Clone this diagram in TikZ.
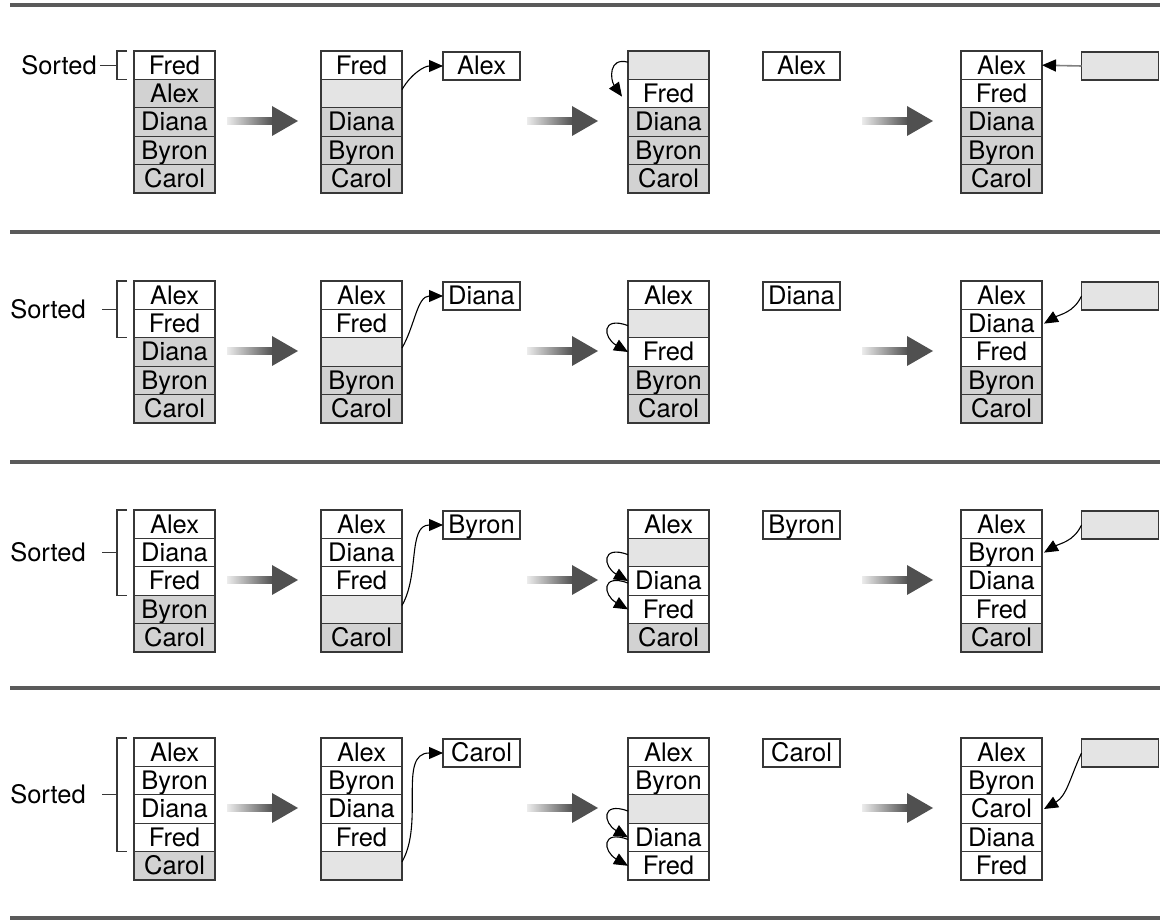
\documentclass[tikz,border=0pt]{standalone}
\usepackage{fontspec}
\setmainfont{TeX Gyre Heros}
\usetikzlibrary{arrows.meta,positioning,calc}
\definecolor{cellgray}{RGB}{210,210,210}
\definecolor{emptygray}{RGB}{228,228,228}
\definecolor{linegray}{RGB}{55,55,55}
\definecolor{rulegray}{RGB}{90,90,90}
\definecolor{passgray}{RGB}{80,80,80}
\newcommand{\cellfont}{\fontsize{25.5}{26}\selectfont}
\tikzstyle{cell} = [rectangle, draw=linegray, line width=1.3pt, minimum width=81pt,
    minimum height=28.4pt, inner sep=0pt, outer sep=0pt, font=\cellfont,
    text height=18pt, text depth=0pt]
\tikzstyle{sidebox} = [cell, minimum width=77pt, minimum height=28pt]
\tikzstyle{sortlabel} = [inner sep=0pt, font=\cellfont, text height=18pt, text depth=0pt]
\tikzstyle{sortbrace} = [line width=1.3pt, draw=linegray]
\tikzstyle{sectionrule} = [line width=4pt, draw=rulegray]
\tikzstyle{movearrow} = [line width=1.1pt, -{Triangle[length=14pt,width=12pt]}]
\tikzstyle{shiftloop} = [movearrow, out=160, in=150, looseness=2.8]
% a column of five cells: name, x centre, y top, list of text/fill
\newcommand{\cellstack}[4]{%
  \foreach \txt/\col [count=\i] in {#4}
    \node[cell, fill=\col] (#1-\i) at ({#2}, {#3-28.4*\i+14.2}) {\txt};
}
% the big grey arrow between two steps: x start, y centre
\newcommand{\passarrow}[2]{%
  \shade[left color=gray!15, right color=passgray] ({#1},{#2-3.5}) rectangle ({#1+46},{#2+3.5});
  \fill[passgray] ({#1+45},{#2-15}) -- ({#1+71},{#2}) -- ({#1+45},{#2+15}) -- cycle;
}

\begin{document}
\begin{tikzpicture}[x=1pt, y=1pt]
\useasboundingbox (0,0) rectangle (1163,922);
\foreach \ry in {917,690,460,234,4}
  \draw[sectionrule] (10,\ry) -- (1160,\ry);

% pass 1: Alex
\cellstack{r1a}{174.5}{871}{Fred/white, Alex/cellgray, Diana/cellgray, Byron/cellgray, Carol/cellgray}
\cellstack{r1b}{361.5}{871}{Fred/white, {}/emptygray, Diana/cellgray, Byron/cellgray, Carol/cellgray}
\node[sidebox, fill=white] (r1b-out) at (481.5, 856) {Alex};
\cellstack{r1c}{668.5}{871}{{}/emptygray, Fred/white, Diana/cellgray, Byron/cellgray, Carol/cellgray}
\node[sidebox, fill=white] (r1c-out) at (801.5, 856) {Alex};
\cellstack{r1d}{1001.5}{871}{Alex/white, Fred/white, Diana/cellgray, Byron/cellgray, Carol/cellgray}
\node[sidebox, fill=emptygray] (r1d-out) at (1120, 856) {};
\coordinate (r1brk) at ($(r1a-1.north west)!0.5!(r1a-1.south west)+(-17,0)$);
\draw[sortbrace] ($(r1a-1.north west)+(-7,0)$) -| ($(r1a-1.south west)+(-17,0)$) -- ++(10,0);
\node[sortlabel, left=20pt of r1brk] (r1lab) {Sorted};
\draw[sortbrace, shorten <=3pt] (r1lab.east) -- (r1brk);
\passarrow{227}{801}
\passarrow{527}{801}
\passarrow{862}{801}
\draw[movearrow] ($(r1b-2.east)+(0,4)$) to[out=60, in=180] (r1b-out.west);
\draw[movearrow] ($(r1c-1.west)+(0,3)$) to[out=165, in=125, looseness=1.5] ($(r1c-2.west)+(-6,-3)$);
\draw[line width=1.6pt, draw=gray, -{Triangle[length=14pt,width=12pt,black]}] (r1d-out.west) -- (r1d-1.east);

% pass 2: Diana
\cellstack{r2a}{174.5}{641}{Alex/white, Fred/white, Diana/cellgray, Byron/cellgray, Carol/cellgray}
\cellstack{r2b}{361.5}{641}{Alex/white, Fred/white, {}/emptygray, Byron/cellgray, Carol/cellgray}
\node[sidebox, fill=white] (r2b-out) at (481.5, 626) {Diana};
\cellstack{r2c}{668.5}{641}{Alex/white, {}/emptygray, Fred/white, Byron/cellgray, Carol/cellgray}
\node[sidebox, fill=white] (r2c-out) at (801.5, 626) {Diana};
\cellstack{r2d}{1001.5}{641}{Alex/white, Diana/white, Fred/white, Byron/cellgray, Carol/cellgray}
\node[sidebox, fill=emptygray] (r2d-out) at (1120, 626) {};
\coordinate (r2brk) at ($(r2a-1.north west)!0.5!(r2a-2.south west)+(-17,0)$);
\draw[sortbrace] ($(r2a-1.north west)+(-7,0)$) -| ($(r2a-2.south west)+(-17,0)$) -- ++(10,0);
\node[sortlabel, left=31pt of r2brk] (r2lab) {Sorted};
\draw[sortbrace, shorten <=16pt] (r2lab.east) -- (r2brk);
\passarrow{227}{571}
\passarrow{527}{571}
\passarrow{862}{571}
\draw[movearrow] ($(r2b-3.east)+(0,4)$) to[out=60, in=180] (r2b-out.west);
\draw[shiftloop] ($(r2c-2.west)+(0,-2)$) to (r2c-3.west);
\draw[movearrow] (r2d-out.west) to[out=245, in=30] ($(r2d-2.east)+(2,0)$);

% pass 3: Byron
\cellstack{r3a}{174.5}{412}{Alex/white, Diana/white, Fred/white, Byron/cellgray, Carol/cellgray}
\cellstack{r3b}{361.5}{412}{Alex/white, Diana/white, Fred/white, {}/emptygray, Carol/cellgray}
\node[sidebox, fill=white] (r3b-out) at (481.5, 397) {Byron};
\cellstack{r3c}{668.5}{412}{Alex/white, {}/emptygray, Diana/white, Fred/white, Carol/cellgray}
\node[sidebox, fill=white] (r3c-out) at (801.5, 397) {Byron};
\cellstack{r3d}{1001.5}{412}{Alex/white, Byron/white, Diana/white, Fred/white, Carol/cellgray}
\node[sidebox, fill=emptygray] (r3d-out) at (1120, 397) {};
\coordinate (r3brk) at ($(r3a-1.north west)!0.5!(r3a-3.south west)+(-17,0)$);
\draw[sortbrace] ($(r3a-1.north west)+(-7,0)$) -| ($(r3a-3.south west)+(-17,0)$) -- ++(10,0);
\node[sortlabel, left=31pt of r3brk] (r3lab) {Sorted};
\draw[sortbrace, shorten <=16pt] (r3lab.east) -- (r3brk);
\passarrow{227}{342}
\passarrow{527}{342}
\passarrow{862}{342}
\draw[movearrow] ($(r3b-4.east)+(0,4)$) to[out=60, in=180] (r3b-out.west);
\draw[shiftloop] ($(r3c-2.west)+(0,-2)$) to (r3c-3.west);
\draw[shiftloop] ($(r3c-3.west)+(0,-2)$) to (r3c-4.west);
\draw[movearrow] (r3d-out.west) to[out=245, in=30] ($(r3d-2.east)+(2,0)$);

% pass 4: Carol
\cellstack{r4a}{174.5}{184}{Alex/white, Byron/white, Diana/white, Fred/white, Carol/cellgray}
\cellstack{r4b}{361.5}{184}{Alex/white, Byron/white, Diana/white, Fred/white, {}/emptygray}
\node[sidebox, fill=white] (r4b-out) at (481.5, 169) {Carol};
\cellstack{r4c}{668.5}{184}{Alex/white, Byron/white, {}/emptygray, Diana/white, Fred/white}
\node[sidebox, fill=white] (r4c-out) at (801.5, 169) {Carol};
\cellstack{r4d}{1001.5}{184}{Alex/white, Byron/white, Carol/white, Diana/white, Fred/white}
\node[sidebox, fill=emptygray] (r4d-out) at (1120, 169) {};
\coordinate (r4brk) at ($(r4a-1.north west)!0.5!(r4a-4.south west)+(-17,0)$);
\draw[sortbrace] ($(r4a-1.north west)+(-7,0)$) -| ($(r4a-4.south west)+(-17,0)$) -- ++(10,0);
\node[sortlabel, left=31pt of r4brk] (r4lab) {Sorted};
\draw[sortbrace, shorten <=16pt] (r4lab.east) -- (r4brk);
\passarrow{227}{114}
\passarrow{527}{114}
\passarrow{862}{114}
\draw[movearrow] ($(r4b-5.east)+(0,4)$) to[out=60, in=180] (r4b-out.west);
\draw[shiftloop] ($(r4c-3.west)+(0,-2)$) to (r4c-4.west);
\draw[shiftloop] ($(r4c-4.west)+(0,-2)$) to (r4c-5.west);
\draw[movearrow] (r4d-out.west) to[out=245, in=30] ($(r4d-3.east)+(2,0)$);
\end{tikzpicture}
\end{document}
